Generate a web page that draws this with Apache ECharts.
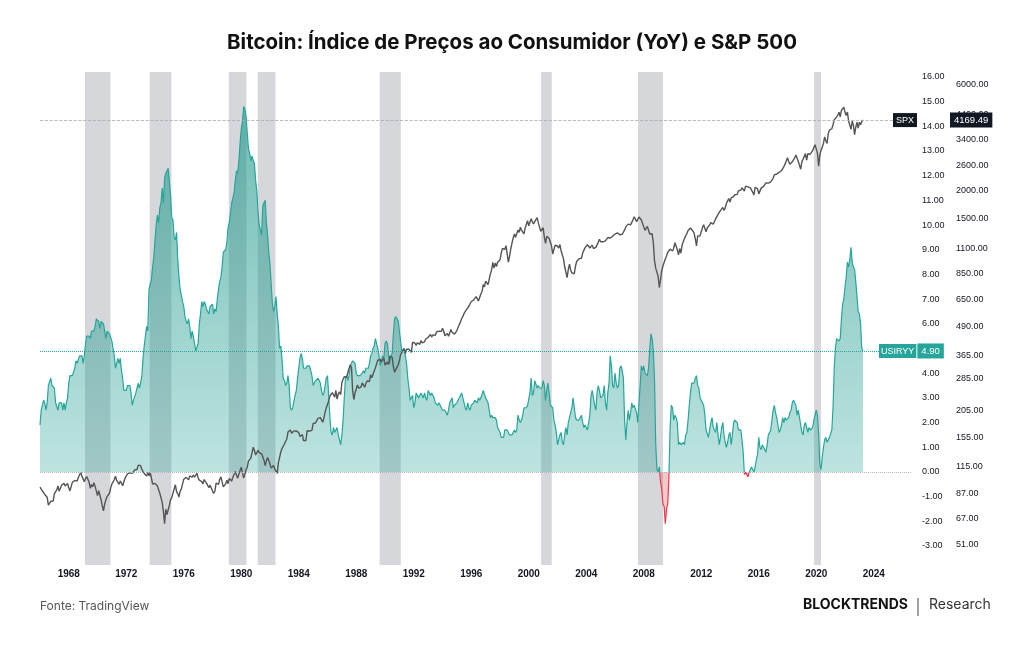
<!DOCTYPE html>
<html>
<head>
<meta charset="utf-8">
<title>Bitcoin: Índice de Preços ao Consumidor (YoY) e S&P 500</title>
<script src="https://cdn.jsdelivr.net/npm/echarts@6/dist/echarts.min.js"></script>
<style>
  html, body { margin: 0; padding: 0; background: #fff; }
  #chart { width: 1024px; height: 645px; }
</style>
</head>
<body>
<div id="chart"></div>
<script>
// monthly series, first point = Jan 1966
const startYear = 1966;

// US CPI YoY (%)
const cpiYoY = [
  1.9, 2.5, 2.5, 2.9, 2.8, 2.5, 2.8, 3.5, 3.5, 3.8, 3.5, 3.5,       // 1966
  3.4, 2.8, 2.8, 2.5, 2.8, 2.8, 2.8, 2.5, 2.8, 2.5, 2.8, 3.0,       // 1967
  3.6, 3.9, 3.9, 3.9, 3.9, 4.2, 4.5, 4.4, 4.4, 4.7, 4.7, 4.7,       // 1968
  4.4, 4.7, 5.2, 5.5, 5.5, 5.5, 5.4, 5.7, 5.7, 5.7, 5.9, 6.2,       // 1969
  6.2, 6.1, 5.8, 6.1, 6.1, 6.0, 6.0, 5.4, 5.7, 5.7, 5.6, 5.6,       // 1970
  5.3, 5.0, 4.7, 4.2, 4.4, 4.6, 4.4, 4.6, 4.1, 3.8, 3.3, 3.3,       // 1971
  3.3, 3.5, 3.5, 3.5, 3.2, 2.7, 2.9, 2.9, 3.2, 3.4, 3.6, 3.4,       // 1972
  3.6, 3.9, 4.6, 5.1, 5.5, 5.9, 5.7, 7.4, 7.4, 7.8, 8.3, 8.7,       // 1973
  9.4, 10.0, 10.4, 10.1, 10.7, 10.9, 11.5, 10.9, 11.9, 12.1, 12.2, 12.3, // 1974
  11.8, 11.2, 10.3, 10.2, 9.5, 9.4, 9.7, 8.6, 7.9, 7.4, 7.4, 6.9,   // 1975
  6.7, 6.3, 6.1, 6.0, 6.2, 5.9, 5.4, 5.7, 5.5, 5.5, 4.9, 4.9,       // 1976
  5.2, 6.0, 6.4, 6.9, 6.7, 6.9, 6.8, 6.6, 6.6, 6.4, 6.7, 6.7,       // 1977
  6.8, 6.4, 6.6, 6.5, 7.0, 7.4, 7.7, 7.9, 8.3, 8.9, 8.9, 9.0,       // 1978
  9.3, 9.9, 10.1, 10.5, 10.9, 10.9, 11.3, 11.8, 12.2, 12.1, 12.6, 13.3, // 1979
  13.9, 14.2, 14.8, 14.7, 14.4, 14.4, 13.1, 12.9, 12.6, 12.8, 12.6, 12.5, // 1980
  11.8, 11.4, 10.5, 10.0, 9.8, 9.6, 10.8, 10.8, 11.0, 10.1, 9.6, 8.9, // 1981
  8.4, 7.6, 6.8, 6.5, 6.7, 7.1, 6.4, 5.9, 5.0, 5.1, 4.6, 3.8,       // 1982
  3.7, 3.5, 3.6, 3.9, 3.5, 2.6, 2.5, 2.6, 2.9, 2.9, 3.3, 3.8,       // 1983
  4.2, 4.6, 4.8, 4.6, 4.2, 4.2, 4.2, 4.3, 4.3, 4.3, 4.1, 3.9,       // 1984
  3.5, 3.5, 3.7, 3.7, 3.8, 3.8, 3.6, 3.3, 3.1, 3.2, 3.5, 3.8,       // 1985
  3.9, 3.1, 2.2, 1.6, 1.5, 1.8, 1.6, 1.6, 1.8, 1.5, 1.3, 1.1,       // 1986
  1.5, 2.1, 3.0, 3.8, 3.9, 3.7, 3.9, 4.3, 4.4, 4.5, 4.5, 4.4,       // 1987
  4.0, 3.9, 3.9, 3.9, 3.9, 4.0, 4.1, 4.0, 4.2, 4.2, 4.2, 4.4,       // 1988
  4.7, 4.8, 5.0, 5.1, 5.4, 5.2, 5.0, 4.7, 4.3, 4.5, 4.7, 4.6,       // 1989
  5.2, 5.3, 5.2, 4.7, 4.4, 4.7, 4.8, 5.6, 6.2, 6.3, 6.3, 6.1,       // 1990
  5.7, 5.3, 4.9, 4.9, 5.0, 4.7, 4.4, 3.8, 3.4, 2.9, 3.0, 3.1,       // 1991
  2.6, 2.8, 3.2, 3.2, 3.0, 3.1, 3.2, 3.1, 3.0, 3.2, 3.0, 2.9,       // 1992
  3.3, 3.2, 3.1, 3.2, 3.2, 3.0, 2.8, 2.8, 2.7, 2.8, 2.7, 2.7,       // 1993
  2.5, 2.5, 2.5, 2.4, 2.3, 2.5, 2.8, 2.9, 3.0, 2.6, 2.7, 2.7,       // 1994
  2.8, 2.9, 2.9, 3.1, 3.2, 3.0, 2.8, 2.6, 2.5, 2.8, 2.6, 2.5,       // 1995
  2.7, 2.7, 2.8, 2.9, 2.9, 2.8, 3.0, 2.9, 3.0, 3.0, 3.3, 3.3,       // 1996
  3.0, 3.0, 2.8, 2.5, 2.2, 2.3, 2.2, 2.2, 2.2, 2.1, 1.8, 1.7,       // 1997
  1.6, 1.4, 1.4, 1.4, 1.7, 1.7, 1.7, 1.6, 1.5, 1.5, 1.5, 1.6,       // 1998
  1.7, 1.6, 1.7, 2.3, 2.1, 2.0, 2.1, 2.3, 2.6, 2.6, 2.6, 2.7,       // 1999
  2.7, 3.2, 3.8, 3.1, 3.2, 3.7, 3.7, 3.4, 3.5, 3.4, 3.4, 3.4,       // 2000
  3.7, 3.5, 2.9, 3.3, 3.6, 3.2, 2.7, 2.7, 2.6, 2.1, 1.9, 1.6,       // 2001
  1.1, 1.1, 1.5, 1.6, 1.2, 1.1, 1.5, 1.8, 1.5, 2.0, 2.2, 2.4,       // 2002
  2.6, 3.0, 3.0, 2.2, 2.1, 2.1, 2.1, 2.2, 2.3, 2.0, 1.8, 1.9,       // 2003
  1.9, 1.7, 1.7, 2.3, 3.1, 3.3, 3.0, 2.7, 2.5, 3.2, 3.5, 3.3,       // 2004
  3.0, 3.0, 3.1, 3.5, 2.8, 2.5, 3.2, 3.6, 4.7, 4.3, 3.5, 3.4,       // 2005
  4.0, 3.6, 3.4, 3.5, 4.2, 4.3, 4.1, 3.8, 2.1, 1.3, 2.0, 2.5,       // 2006
  2.1, 2.4, 2.8, 2.6, 2.7, 2.7, 2.4, 2.0, 2.8, 3.5, 4.3, 4.1,       // 2007
  4.3, 4.0, 4.0, 3.9, 4.2, 5.0, 5.6, 5.4, 4.9, 3.7, 1.1, 0.1,       // 2008
  0.0, 0.2, -0.4, -0.7, -1.3, -1.4, -2.1, -1.5, -1.3, -0.2, 1.8, 2.7, // 2009
  2.6, 2.1, 2.3, 2.2, 2.0, 1.1, 1.2, 1.1, 1.1, 1.2, 1.1, 1.5,       // 2010
  1.6, 2.1, 2.7, 3.2, 3.6, 3.6, 3.6, 3.8, 3.9, 3.5, 3.4, 3.0,       // 2011
  2.9, 2.9, 2.7, 2.3, 1.7, 1.7, 1.4, 1.7, 2.0, 2.2, 1.8, 1.7,       // 2012
  1.6, 2.0, 1.5, 1.1, 1.4, 1.8, 2.0, 1.5, 1.2, 1.0, 1.2, 1.5,       // 2013
  1.6, 1.1, 1.5, 2.0, 2.1, 2.1, 2.0, 1.7, 1.7, 1.7, 1.3, 0.8,       // 2014
  -0.1, 0.0, -0.1, -0.2, 0.0, 0.1, 0.2, 0.2, 0.0, 0.2, 0.5, 0.7,    // 2015
  1.4, 1.0, 0.9, 1.1, 1.0, 1.0, 0.8, 1.1, 1.5, 1.6, 1.7, 2.1,       // 2016
  2.5, 2.7, 2.4, 2.2, 1.9, 1.6, 1.7, 1.9, 2.2, 2.0, 2.2, 2.1,       // 2017
  2.1, 2.2, 2.4, 2.5, 2.8, 2.9, 2.9, 2.7, 2.3, 2.5, 2.2, 1.9,       // 2018
  1.6, 1.5, 1.9, 2.0, 1.8, 1.6, 1.8, 1.7, 1.7, 1.8, 2.1, 2.3,       // 2019
  2.5, 2.3, 1.5, 0.3, 0.1, 0.6, 1.0, 1.3, 1.4, 1.2, 1.2, 1.4,       // 2020
  1.4, 1.7, 2.6, 4.2, 5.0, 5.4, 5.4, 5.3, 5.4, 6.2, 6.8, 7.0,       // 2021
  7.5, 7.9, 8.5, 8.3, 8.6, 9.1, 8.5, 8.3, 8.2, 7.7, 7.1, 6.5,       // 2022
  6.4, 6.0, 5.0, 4.9                                                // 2023
];

// S&P 500 monthly close
const spx = [
  92.88, 91.22, 89.23, 91.06, 86.13, 84.74, 83.60, 77.10, 76.56, 80.20, 80.45, 80.33,
  86.61, 86.78, 90.20, 94.01, 89.08, 90.64, 94.75, 93.64, 96.71, 93.90, 94.00, 96.47,
  92.24, 89.36, 90.20, 97.59, 98.68, 99.58, 97.74, 98.86, 102.67, 103.41, 108.37, 103.86,
  103.01, 98.13, 101.51, 103.69, 103.46, 97.71, 91.83, 95.51, 93.12, 97.24, 93.81, 92.06,
  85.02, 89.50, 89.63, 81.52, 76.55, 72.72, 78.05, 81.52, 84.21, 83.25, 87.20, 92.15,
  95.88, 96.75, 100.31, 103.95, 99.63, 98.70, 95.58, 99.03, 98.34, 94.23, 93.99, 102.09,
  103.94, 106.57, 107.20, 107.67, 109.53, 107.14, 107.39, 111.09, 110.55, 111.58, 116.67, 118.05,
  116.03, 111.68, 111.52, 106.97, 104.95, 104.26, 108.22, 104.25, 108.43, 108.29, 95.96, 97.55,
  96.57, 96.22, 93.98, 90.31, 87.28, 86.00, 79.31, 72.15, 63.54, 73.90, 69.97, 68.56,
  76.98, 81.59, 83.36, 87.30, 91.15, 95.19, 88.75, 86.88, 83.87, 89.04, 91.24, 90.19,
  100.86, 99.71, 102.77, 101.64, 100.18, 104.28, 103.44, 102.91, 105.24, 102.90, 102.10, 107.46,
  102.03, 99.82, 98.42, 98.44, 96.12, 100.48, 98.85, 96.77, 96.53, 92.34, 94.83, 95.10,
  89.25, 87.04, 89.21, 96.83, 97.24, 95.53, 100.68, 103.29, 102.54, 93.15, 94.70, 96.11,
  99.93, 96.28, 101.59, 101.76, 99.08, 102.91, 103.81, 109.32, 109.32, 101.82, 106.16, 107.94,
  114.16, 113.66, 102.09, 106.29, 111.24, 114.24, 121.67, 122.38, 125.46, 127.47, 140.52, 135.76,
  129.55, 131.27, 136.00, 132.81, 132.59, 131.21, 130.92, 122.79, 116.18, 121.89, 126.35, 122.55,
  120.40, 113.11, 111.96, 116.44, 111.88, 109.61, 107.09, 119.51, 120.42, 133.71, 138.54, 140.64,
  145.30, 148.06, 152.96, 164.42, 162.39, 168.11, 162.56, 164.40, 166.07, 163.55, 166.40, 164.93,
  163.41, 157.06, 159.18, 160.05, 150.55, 153.18, 150.66, 166.68, 166.10, 166.09, 163.58, 167.24,
  179.63, 181.18, 180.66, 179.83, 189.55, 191.85, 190.92, 188.63, 182.08, 189.82, 202.17, 211.28,
  211.78, 226.92, 238.90, 235.52, 247.35, 250.84, 236.12, 252.93, 231.32, 243.98, 249.22, 242.17,
  274.08, 284.20, 291.70, 288.36, 290.10, 304.00, 318.66, 329.80, 321.83, 251.79, 230.30, 247.08,
  257.07, 267.82, 258.89, 261.33, 262.16, 273.50, 272.02, 261.52, 271.91, 278.97, 273.70, 277.72,
  297.47, 288.86, 294.87, 309.64, 320.52, 317.98, 346.08, 351.45, 349.15, 340.36, 345.99, 353.40,
  329.08, 331.89, 339.94, 330.80, 361.23, 358.02, 356.15, 322.56, 306.05, 304.00, 322.22, 330.22,
  343.93, 367.07, 375.22, 375.34, 389.83, 371.16, 387.81, 395.43, 387.86, 392.46, 375.22, 417.09,
  408.79, 412.70, 403.69, 414.95, 415.35, 408.14, 424.21, 414.03, 417.80, 418.68, 431.35, 435.71,
  438.78, 443.38, 451.67, 440.19, 450.19, 450.53, 448.13, 463.56, 458.93, 467.83, 461.79, 466.45,
  481.61, 467.14, 445.77, 450.91, 456.50, 444.27, 458.26, 475.49, 462.69, 472.35, 453.69, 459.27,
  470.42, 487.39, 500.71, 514.71, 533.40, 544.75, 562.06, 561.88, 584.41, 581.50, 605.37, 615.93,
  636.02, 640.43, 645.50, 654.17, 669.12, 670.63, 639.95, 651.99, 687.33, 705.27, 757.02, 740.74,
  786.16, 790.82, 757.12, 801.34, 848.28, 885.14, 954.31, 899.47, 947.28, 914.62, 955.40, 970.43,
  980.28, 1049.34, 1101.75, 1111.75, 1090.82, 1133.84, 1120.67, 957.28, 1017.01, 1098.67, 1163.63, 1229.23,
  1279.64, 1238.33, 1286.37, 1335.18, 1301.84, 1372.71, 1328.72, 1320.41, 1282.71, 1362.93, 1388.91, 1469.25,
  1394.46, 1366.42, 1498.58, 1452.43, 1420.60, 1454.60, 1430.83, 1517.68, 1436.51, 1429.40, 1314.95, 1320.28,
  1366.01, 1239.94, 1160.33, 1249.46, 1255.82, 1224.42, 1211.23, 1133.58, 1040.94, 1059.78, 1139.45, 1148.08,
  1130.20, 1106.73, 1147.39, 1076.92, 1067.14, 989.82, 911.62, 916.07, 815.28, 885.76, 936.31, 879.82,
  855.70, 841.15, 848.18, 916.92, 963.59, 974.50, 990.31, 1008.01, 995.97, 1050.71, 1058.20, 1111.92,
  1131.13, 1144.94, 1126.21, 1107.30, 1120.68, 1140.84, 1101.72, 1104.24, 1114.58, 1130.20, 1173.82, 1211.92,
  1181.27, 1203.60, 1180.59, 1156.85, 1191.50, 1191.33, 1234.18, 1220.33, 1228.81, 1207.01, 1249.48, 1248.29,
  1280.08, 1280.66, 1294.87, 1310.61, 1270.09, 1270.20, 1276.66, 1303.82, 1335.85, 1377.94, 1400.63, 1418.30,
  1438.24, 1406.82, 1420.86, 1482.37, 1530.62, 1503.35, 1455.27, 1473.99, 1526.75, 1549.38, 1481.14, 1468.36,
  1378.55, 1330.63, 1322.70, 1385.59, 1400.38, 1280.00, 1267.38, 1282.83, 1166.36, 968.75, 896.24, 903.25,
  825.88, 735.09, 797.87, 872.81, 919.14, 919.32, 987.48, 1020.62, 1057.08, 1036.19, 1095.63, 1115.10,
  1073.87, 1104.49, 1169.43, 1186.69, 1089.41, 1030.71, 1101.60, 1049.33, 1141.20, 1183.26, 1180.55, 1257.64,
  1286.12, 1327.22, 1325.83, 1363.61, 1345.20, 1320.64, 1292.28, 1218.89, 1131.42, 1253.30, 1246.96, 1257.60,
  1312.41, 1365.68, 1408.47, 1397.91, 1310.33, 1362.16, 1379.32, 1406.58, 1440.67, 1412.16, 1416.18, 1426.19,
  1498.11, 1514.68, 1569.19, 1597.57, 1630.74, 1606.28, 1685.73, 1632.97, 1681.55, 1756.54, 1805.81, 1848.36,
  1782.59, 1859.45, 1872.34, 1883.95, 1923.57, 1960.23, 1930.67, 2003.37, 1972.29, 2018.05, 2067.56, 2058.90,
  1994.99, 2104.50, 2067.89, 2085.51, 2107.39, 2063.11, 2103.84, 1972.18, 1920.03, 2079.36, 2080.41, 2043.94,
  1940.24, 1932.23, 2059.74, 2065.30, 2096.95, 2098.86, 2173.60, 2170.95, 2168.27, 2126.15, 2198.81, 2238.83,
  2278.87, 2363.64, 2362.72, 2384.20, 2411.80, 2423.41, 2470.30, 2471.65, 2519.36, 2575.26, 2647.58, 2673.61,
  2823.81, 2713.83, 2640.87, 2648.05, 2705.27, 2718.37, 2816.29, 2901.52, 2913.98, 2711.74, 2760.17, 2506.85,
  2704.10, 2784.49, 2834.40, 2945.83, 2752.06, 2941.76, 2980.38, 2926.46, 2976.74, 3037.56, 3140.98, 3230.78,
  3225.52, 2954.22, 2584.59, 2912.43, 3044.31, 3100.29, 3271.12, 3500.31, 3363.00, 3269.96, 3621.63, 3756.07,
  3714.24, 3811.15, 3972.89, 4181.17, 4204.11, 4297.50, 4395.26, 4522.68, 4307.54, 4605.38, 4567.00, 4766.18,
  4515.55, 4373.94, 4530.41, 4131.93, 4132.15, 3785.38, 4130.29, 3955.00, 3585.62, 3871.98, 4080.11, 3839.50,
  4076.60, 3970.15, 4109.31, 4169.49
];

// recession shading, [start, end] in decimal years
const recessions = [
  [1969.13, 1970.90], [1973.63, 1975.14], [1979.13, 1980.36], [1981.15, 1982.38],
  [1989.63, 1991.10], [2000.86, 2001.60], [2007.60, 2009.34], [2019.85, 2020.33]
];

const yearTicks = [1968, 1972, 1976, 1980, 1984, 1988, 1992, 1996, 2000, 2004, 2008, 2012, 2016, 2020, 2024];
const cpiTicks = [-3, -2, -1, 0, 1, 2, 3, 4, 5, 6, 7, 8, 9, 10, 11, 12, 13, 14, 15, 16];
const spxTicks = [51, 67, 87, 115, 155, 205, 285, 365, 490, 650, 850, 1100, 1500, 2000, 2600, 3400, 4400, 6000];

const cpiData = cpiYoY.map((v, i) => [startYear + i / 12, v]);
const spxData = spx.map((v, i) => [startYear + i / 12, v]);
const cpiLast = cpiYoY[cpiYoY.length - 1];
const spxLast = spx[spx.length - 1];

const axisFont = 'Liberation Sans, Arial, sans-serif';
const teal = '#26a69a';

const chart = echarts.init(document.getElementById('chart'), null, { renderer: 'canvas' });

const option = {
  animation: false,
  backgroundColor: '#ffffff',
  title: {
    text: 'Bitcoin: Índice de Preços ao Consumidor (YoY) e S&P 500',
    left: 'center',
    top: 27,
    textStyle: { fontFamily: 'Inter, sans-serif', fontSize: 20.5, fontWeight: 700, color: '#111111' }
  },
  grid: { left: 40, right: 112, top: 72, bottom: 80 },
  visualMap: {
    show: false,
    type: 'piecewise',
    seriesIndex: 0,
    dimension: 1,
    pieces: [
      { gte: -50, lt: 0, color: '#f23645' },
      { gte: 0, lte: 50, color: teal }
    ]
  },
  xAxis: {
    type: 'value',
    min: 1966,
    max: 2026.66,
    axisLine: { show: false },
    axisTick: { show: false },
    splitLine: { show: false },
    axisLabel: {
      customValues: yearTicks,
      formatter: v => String(v),
      margin: 4,
      fontFamily: axisFont,
      fontSize: 10,
      fontWeight: 'bold',
      color: '#131722'
    }
  },
  yAxis: [
    {
      type: 'value',
      position: 'right',
      min: -3.77,
      max: 16.2,
      axisLine: { show: false },
      axisTick: { show: false },
      splitLine: { show: false },
      axisLabel: {
        customValues: cpiTicks,
        formatter: v => v.toFixed(2),
        margin: 10,
        fontFamily: axisFont,
        fontSize: 9,
        color: '#131722'
      }
    },
    {
      type: 'log',
      position: 'right',
      offset: 34,
      min: 41.45,
      max: 6862,
      axisLine: { show: false },
      axisTick: { show: false },
      splitLine: { show: false },
      axisLabel: {
        customValues: spxTicks,
        formatter: v => Number(v).toFixed(2),
        margin: 10,
        fontFamily: axisFont,
        fontSize: 9,
        color: '#131722'
      }
    }
  ],
  series: [
    {
      name: 'USIRYY',
      type: 'line',
      yAxisIndex: 0,
      data: cpiData,
      symbol: 'none',
      z: 2,
      lineStyle: { width: 1.2 },
      areaStyle: { opacity: 0.25 },
      silent: true,
      markArea: {
        silent: true,
        itemStyle: { color: 'rgba(120,123,134,0.3)' },
        data: recessions.map(r => [{ xAxis: r[0] }, { xAxis: r[1] }])
      },
      markLine: {
        silent: true,
        symbol: 'none',
        animation: false,
        data: [
          {
            yAxis: 0,
            lineStyle: { color: '#b2b5be', type: 'dotted', width: 1 },
            label: { show: false }
          },
          {
            yAxis: cpiLast,
            lineStyle: { color: teal, type: 'dotted', width: 1 },
            label: {
              show: true,
              position: 'end',
              distance: -33,
              formatter: '{a|USIRYY}{s|}{b|' + cpiLast.toFixed(2) + '}',
              rich: {
                a: { backgroundColor: teal, color: '#fff', fontFamily: axisFont, fontSize: 9, padding: [3, 2, 2, 2] },
                s: { width: 1 },
                b: { backgroundColor: teal, color: '#fff', fontFamily: axisFont, fontSize: 9.5, padding: [3, 4, 2, 4] }
              }
            }
          }
        ]
      }
    },
    {
      name: 'USIRYY shade',
      type: 'line',
      yAxisIndex: 0,
      data: cpiData,
      symbol: 'none',
      silent: true,
      z: 2,
      lineStyle: { width: 0, opacity: 0 },
      areaStyle: {
        color: new echarts.graphic.LinearGradient(0, 0, 0, 1, [
          { offset: 0, color: 'rgba(30,148,136,0.75)' },
          { offset: 1, color: 'rgba(30,148,136,0)' }
        ])
      }
    },
    {
      name: 'SPX',
      type: 'line',
      yAxisIndex: 1,
      data: spxData,
      symbol: 'none',
      silent: true,
      z: 3,
      lineStyle: { color: '#555555', width: 1.4 },
      markLine: {
        silent: true,
        symbol: 'none',
        animation: false,
        data: [
          {
            yAxis: spxLast,
            lineStyle: { color: '#a8abb3', type: 'dashed', width: 0.8 },
            label: {
              show: true,
              position: 'end',
              distance: -19,
              formatter: '{a|SPX}{s|}{b|' + spxLast.toFixed(2) + '}',
              rich: {
                a: { backgroundColor: '#131722', color: '#fff', fontFamily: axisFont, fontSize: 9, padding: [3, 3, 2, 3] },
                s: { width: 33 },
                b: { backgroundColor: '#131722', color: '#fff', fontFamily: axisFont, fontSize: 9.5, padding: [3, 4, 2, 4] }
              }
            }
          }
        ]
      }
    }
  ],
  graphic: [
    {
      type: 'text', left: 40, top: 600,
      style: { text: 'Fonte: TradingView', font: '12px Inter, sans-serif', fill: '#555555' }
    },
    {
      type: 'text', left: 803, top: 598,
      style: { text: 'BLOCKTRENDS', font: 'bold 14px Inter, sans-serif', fill: '#111111' }
    },
    {
      type: 'line', shape: { x1: 918, y1: 598, x2: 918, y2: 616 },
      style: { stroke: '#444444', lineWidth: 1 }
    },
    {
      type: 'text', left: 929, top: 598,
      style: { text: 'Research', font: '14px Inter, sans-serif', fill: '#333333' }
    }
  ]
};

chart.setOption(option);
</script>
</body>
</html>
